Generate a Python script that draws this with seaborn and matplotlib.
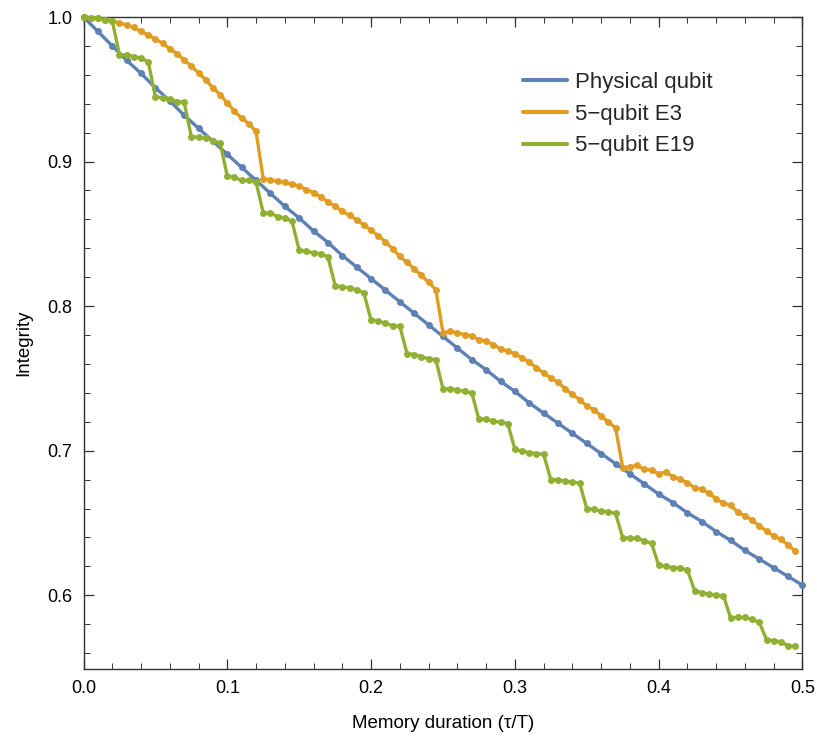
import numpy as np
import pandas as pd
import matplotlib
matplotlib.use("Agg")
import matplotlib.pyplot as plt
from matplotlib.lines import Line2D
from matplotlib.ticker import MultipleLocator
import seaborn as sns

# ---------------- data ----------------
series_names = ["Physical qubit", "5\u2212qubit E3", "5\u2212qubit E19"]
colors = ["#5E81B5", "#E19C24", "#8FB032"]

# sampling grids
t_coarse = np.round(np.arange(51) * 0.01, 3)     # physical qubit: every 0.01
t_fine = np.round(np.arange(100) * 0.005, 3)     # 5-qubit codes: every 0.005

physical = [1.000, 0.990, 0.980, 0.970, 0.961, 0.951, 0.942, 0.932, 0.923, 0.914,
            0.905, 0.896, 0.887, 0.878, 0.869, 0.861, 0.852, 0.844, 0.835, 0.827,
            0.819, 0.811, 0.803, 0.795, 0.787, 0.779, 0.771, 0.763, 0.756, 0.748,
            0.741, 0.733, 0.726, 0.719, 0.712, 0.705, 0.698, 0.691, 0.684, 0.677,
            0.670, 0.664, 0.657, 0.651, 0.644, 0.638, 0.631, 0.625, 0.619, 0.613,
            0.607]

e3 = [1.0000, 0.9995, 0.9990, 0.9980, 0.9970, 0.9960, 0.9945, 0.9928, 0.9900, 0.9876,
      0.9847, 0.9818, 0.9780, 0.9747, 0.9703, 0.9660, 0.9613, 0.9565, 0.9510, 0.9463,
      0.9405, 0.9350, 0.9300, 0.9262, 0.9208,
      0.8880, 0.8874, 0.8863, 0.8856, 0.8842, 0.8832, 0.8805, 0.8786, 0.8755, 0.8722,
      0.8690, 0.8657, 0.8628, 0.8597, 0.8562, 0.8525, 0.8487, 0.8445, 0.8395, 0.8344,
      0.8302, 0.8258, 0.8212, 0.8165, 0.8114,
      0.7815, 0.7826, 0.7815, 0.7803, 0.7792, 0.7769, 0.7757, 0.7734, 0.7704, 0.7688,
      0.7672, 0.7642, 0.7612, 0.7573, 0.7538, 0.7504, 0.7473, 0.7428, 0.7389, 0.7354,
      0.7308, 0.7285, 0.7239, 0.7197, 0.7158,
      0.6882, 0.6889, 0.6898, 0.6870, 0.6866, 0.6840, 0.6852, 0.6820, 0.6801, 0.6778,
      0.6744, 0.6732, 0.6705, 0.6668, 0.6636, 0.6622, 0.6576, 0.6548, 0.6521, 0.6479,
      0.6444, 0.6410, 0.6387, 0.6348, 0.6306]

e19 = [1.0000, 0.9995, 0.9990, 0.9980, 0.9975,
       0.9740, 0.9737, 0.9726, 0.9715, 0.9690,
       0.9450, 0.9440, 0.9430, 0.9415, 0.9410,
       0.9170, 0.9170, 0.9160, 0.9145, 0.9127,
       0.8900, 0.8890, 0.8870, 0.8870, 0.8860,
       0.8644, 0.8644, 0.8620, 0.8610, 0.8586,
       0.8386, 0.8380, 0.8368, 0.8363, 0.8340,
       0.8142, 0.8133, 0.8126, 0.8114, 0.8090,
       0.7902, 0.7898, 0.7880, 0.7865, 0.7860,
       0.7672, 0.7665, 0.7650, 0.7635, 0.7630,
       0.7428, 0.7428, 0.7420, 0.7410, 0.7400,
       0.7216, 0.7220, 0.7204, 0.7197, 0.7188,
       0.7010, 0.6997, 0.6986, 0.6980, 0.6974,
       0.6800, 0.6800, 0.6787, 0.6783, 0.6776,
       0.6599, 0.6594, 0.6582, 0.6578, 0.6566,
       0.6398, 0.6396, 0.6394, 0.6376, 0.6360,
       0.6207, 0.6200, 0.6190, 0.6188, 0.6175,
       0.6030, 0.6018, 0.6007, 0.6000, 0.5997,
       0.5844, 0.5847, 0.5847, 0.5833, 0.5812,
       0.5693, 0.5685, 0.5678, 0.5650, 0.5646]

x_ticks = [0.0, 0.1, 0.2, 0.3, 0.4, 0.5]
y_ticks = [0.6, 0.7, 0.8, 0.9, 1.0]

# ---------------- figure ----------------
sns.set_theme(style="white")
plt.rcParams["font.family"] = ["Liberation Sans", "DejaVu Sans"]

fig = plt.figure(figsize=(8.17, 7.40), dpi=100)
ax = fig.add_axes([83.5 / 817, 1 - 669 / 740, (802.5 - 83.5) / 817, (669 - 17) / 740])

frames = [
    pd.DataFrame({"t": t_coarse, "v": physical}),
    pd.DataFrame({"t": t_fine, "v": e3}),
    pd.DataFrame({"t": t_fine, "v": e19}),
]
for df, c in zip(frames, colors):
    sns.lineplot(data=df, x="t", y="v", ax=ax, color=c, linewidth=2.4,
                 marker="o", markersize=5.0, markeredgewidth=0, sort=False,
                 clip_on=False, zorder=3)

ax.set_xlim(0, 0.5)
ax.set_ylim(0.549, 1.0)
ax.set_xticks(x_ticks)
ax.set_xticklabels([f"{v:.1f}" for v in x_ticks])
ax.set_yticks(y_ticks)
ax.set_yticklabels([f"{v:.1f}" for v in y_ticks])
ax.xaxis.set_minor_locator(MultipleLocator(0.02))
ax.yaxis.set_minor_locator(MultipleLocator(0.02))

ax.tick_params(which="both", direction="in", top=True, right=True,
               bottom=True, left=True, color="#333333", labelsize=13,
               labelcolor="black", pad=8)
ax.tick_params(which="major", length=7, width=0.9)
ax.tick_params(which="minor", length=4, width=0.7)
for s in ax.spines.values():
    s.set_visible(True)
    s.set_color("#333333")
    s.set_linewidth(1.0)

ax.set_xlabel("Memory duration (\u03c4/T)", fontsize=13.5, color="black", labelpad=13)
ax.set_ylabel("Integrity", fontsize=13.5, color="black", labelpad=11)

handles = [Line2D([0], [0], color=c, linewidth=3) for c in colors]
ax.legend(handles, series_names, loc="upper left",
          bbox_to_anchor=(523 / 817, 1 - 72 / 740), bbox_transform=fig.transFigure,
          frameon=False, fontsize=16, handlelength=2.0, handletextpad=0.35,
          labelspacing=0.48, borderpad=0, borderaxespad=0)

fig.savefig("out.png", dpi=100)
